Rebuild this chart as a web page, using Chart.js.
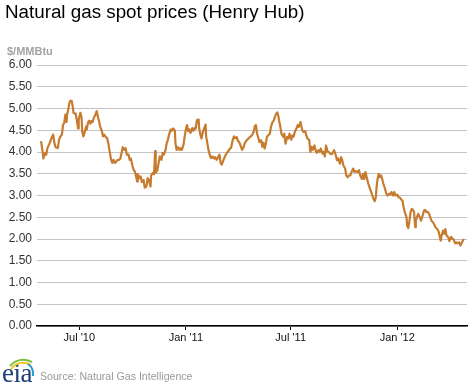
<!DOCTYPE html>
<html>
<head>
<meta charset="utf-8">
<script src="https://cdn.jsdelivr.net/npm/chart.js@4.4.1/dist/chart.umd.min.js"></script>
<style>
  html, body { margin: 0; padding: 0; background: #fff; }
  #wrap { position: relative; width: 471px; height: 388px; overflow: hidden; font-family: "Liberation Sans", Arial, sans-serif; }
  #c { position: absolute; left: 0; top: 0; }
  #title { position: absolute; left: 5px; top: 1px; font-size: 18.8px; color: #000; white-space: nowrap; }
  #unit { position: absolute; left: 7px; top: 45px; font-size: 11px; font-weight: bold; color: #a3a3a3; white-space: nowrap; }
  #source { position: absolute; left: 40px; top: 370px; font-size: 10.6px; color: #999; white-space: nowrap; }
  #logo { position: absolute; left: 1px; top: 356px; width: 36px; height: 32px; }
  #logo span { position: absolute; left: 1px; top: 2px; font-family: "Liberation Serif", "DejaVu Serif", serif; font-size: 27px; color: #1d3f77; letter-spacing: -0.5px; }
  #logo svg { position: absolute; left: 0; top: 0; }
</style>
</head>
<body>
<div id="wrap">
  <canvas id="c" width="471" height="388"></canvas>
  <div id="title">Natural gas spot prices (Henry Hub)</div>
  <div id="unit">$/MMBtu</div>
  <div id="logo">
    <span>eia</span>
    <svg width="36" height="32" viewBox="0 0 36 32">
      <path d="M10 13 Q18 3 30 9" fill="none" stroke="#f2c318" stroke-width="2"/>
      <path d="M9 10 Q18 0 31 6" fill="none" stroke="#7cbf3f" stroke-width="2"/>
      <path d="M27 8 Q33 12 32 20" fill="none" stroke="#2b9ad6" stroke-width="2"/>
    </svg>
  </div>
  <div id="source">Source: Natural Gas Intelligence</div>
</div>
<script>
// Days counted from 1 Jul 2010
const days = [
-66,-63,-62,-59,-57,-55,-51,-48,-45,-43,-41,-37,-35,-33,-30,-28,-26,-24,-22,-21,
-19,-17,-15,-13,-11,-10,-7,-6,-4,-2,-1,2,4,5,7,9,12,13,15,17,
19,21,23,25,28,30,32,34,36,39,41,43,46,48,50,52,55,57,59,62,
64,66,69,71,73,75,78,80,82,85,87,89,92,94,96,98,100,101,104,106,
108,111,113,116,118,120,123,124,127,129,131,132,135,137,139,142,144,146,149,151,
153,155,158,160,162,165,166,168,170,173,175,177,180,182,184,186,188,190,192,195,
197,199,201,203,206,207,209,211,213,215,218,219,221,223,226,228,230,233,235,237,
239,242,244,246,249,251,253,256,258,260,262,265,267,269,272,274,276,279,281,283,
286,288,290,292,295,298,301,303,305,307,310,311,314,316,318,320,322,324,326,329,
331,333,336,338,340,342,344,345,347,349,352,354,356,359,361,363,366,368,370,372,
375,377,379,382,383,385,387,390,392,394,397,399,401,403,406,408,410,413,415,417,
420,422,424,426,429,431,433,436,438,440,443,445,447,450,452,454,456,459,461,463,
466,468,470,473,475,477,481,483,485,488,490,492,494,497,499,501,504,506,508,510,
512,513,515,517,519,521,523,525,528,530,532,535,537,539,542,544,546,549,551,553,
555,558,560,562,565,566,568,570,572,574,576,578,580,581,583,585,588,590,592,595,
597,599,601,604,606,608,611,613,615,618,620,622,624,626,628,630,632,634,637,639,
642,644,646,649,651,653,656,658,660,662,664
];
const prices = [
4.25,3.98,3.85,3.98,3.94,4.09,4.21,4.32,4.40,4.21,4.11,4.09,4.28,4.35,4.40,4.63,4.67,4.86,4.69,4.86,
4.98,5.13,5.18,5.17,5.02,4.90,4.88,4.86,4.71,4.54,4.75,4.90,4.78,4.48,4.36,4.44,4.59,4.52,4.67,4.72,
4.65,4.71,4.69,4.78,4.86,4.94,4.82,4.71,4.59,4.48,4.36,4.40,4.34,4.32,4.21,4.05,3.82,3.75,3.82,3.75,
3.78,3.82,3.82,3.85,3.98,4.11,4.05,4.09,3.94,3.94,3.82,3.85,3.67,3.59,3.55,3.44,3.32,3.49,3.40,3.44,
3.31,3.36,3.18,3.21,3.40,3.36,3.21,3.46,3.52,3.49,4.02,3.52,3.59,3.75,3.90,3.82,3.98,3.94,4.05,4.21,
4.28,4.40,4.52,4.49,4.54,4.49,4.21,4.05,4.11,4.05,4.09,4.05,4.17,4.36,4.52,4.62,4.48,4.52,4.44,4.55,
4.49,4.55,4.54,4.73,4.75,4.55,4.40,4.31,4.44,4.52,4.63,4.36,4.21,4.05,3.90,3.86,3.90,3.85,3.88,3.82,
3.86,3.94,3.75,3.71,3.82,3.88,3.94,4.00,4.03,4.08,4.09,4.28,4.36,4.32,4.34,4.25,4.23,4.13,4.05,4.09,
4.21,4.25,4.28,4.31,4.35,4.38,4.46,4.59,4.62,4.42,4.28,4.23,4.27,4.12,4.21,4.08,4.19,4.35,4.38,4.42,
4.58,4.67,4.73,4.82,4.88,4.91,4.81,4.72,4.59,4.42,4.35,4.42,4.19,4.35,4.31,4.42,4.28,4.38,4.35,4.46,
4.54,4.62,4.58,4.69,4.62,4.50,4.46,4.48,4.38,4.31,4.28,4.00,4.12,4.05,4.15,4.04,3.98,4.04,4.00,4.08,
3.96,4.00,3.90,4.15,4.00,4.00,3.96,3.95,4.00,4.04,3.92,3.81,3.85,3.73,3.88,3.81,3.69,3.62,3.46,3.42,
3.46,3.46,3.54,3.62,3.54,3.56,3.54,3.58,3.46,3.38,3.50,3.38,3.54,3.38,3.27,3.19,3.08,3.00,2.92,2.87,
2.96,3.15,3.38,3.50,3.42,3.46,3.38,3.27,3.15,3.04,3.00,3.04,3.02,3.08,3.00,3.08,3.00,3.02,2.96,2.96,
2.92,2.88,2.73,2.62,2.50,2.31,2.25,2.42,2.62,2.69,2.67,2.62,2.27,2.42,2.50,2.58,2.50,2.42,2.50,2.65,
2.67,2.62,2.63,2.58,2.50,2.42,2.38,2.33,2.27,2.23,2.19,2.08,1.96,2.10,2.19,2.12,2.23,2.08,2.04,1.95,
2.05,2.00,2.00,1.90,1.92,1.90,1.92,1.85,1.90,1.96,2.00
];
const tickDays = [0, 184, 365, 549];
const tickLabels = ["Jul '10", "Jan '11", "Jul '11", "Jan '12"];
const xMin = -73, xMax = 669.4;
const yMin = 0, yMax = 6, yStep = 0.5;

const points = days.map((d, i) => ({ x: d, y: prices[i] }));

new Chart(document.getElementById('c'), {
  type: 'line',
  data: {
    datasets: [{
      data: points,
      borderColor: '#c77b2f',
      borderWidth: 2.2,
      pointRadius: 0,
      tension: 0,
      borderJoinStyle: 'round',
      fill: false
    }]
  },
  options: {
    responsive: false,
    devicePixelRatio: 1,
    animation: false,
    layout: { padding: { top: 65, left: 0, right: 4, bottom: 42 } },
    plugins: { legend: { display: false }, tooltip: { enabled: false }, title: { display: false } },
    scales: {
      x: {
        type: 'linear',
        min: xMin,
        max: xMax,
        afterBuildTicks: (s) => { s.ticks = tickDays.map(v => ({ value: v })); },
        afterFit: (s) => { s.height = 20; },
        ticks: {
          autoSkip: false,
          maxRotation: 0,
          padding: 1,
          color: '#111',
          font: { family: '"Liberation Sans", Arial, sans-serif', size: 11 },
          callback: (v) => { const i = tickDays.indexOf(v); return i >= 0 ? tickLabels[i] : ''; }
        },
        grid: { drawOnChartArea: false, drawTicks: true, tickLength: 4, color: '#000', lineWidth: 1 },
        border: { display: true, color: '#000', width: 1.5 }
      },
      y: {
        min: yMin,
        max: yMax,
        afterFit: (s) => { s.width = 37; },
        ticks: {
          stepSize: yStep,
          padding: 5,
          color: '#333',
          font: { family: '"Liberation Sans", Arial, sans-serif', size: 12 },
          callback: (v) => v.toFixed(2)
        },
        grid: { drawTicks: false, color: '#c3c3c3', lineWidth: 1 },
        border: { display: false }
      }
    }
  }
});
</script>
</body>
</html>
